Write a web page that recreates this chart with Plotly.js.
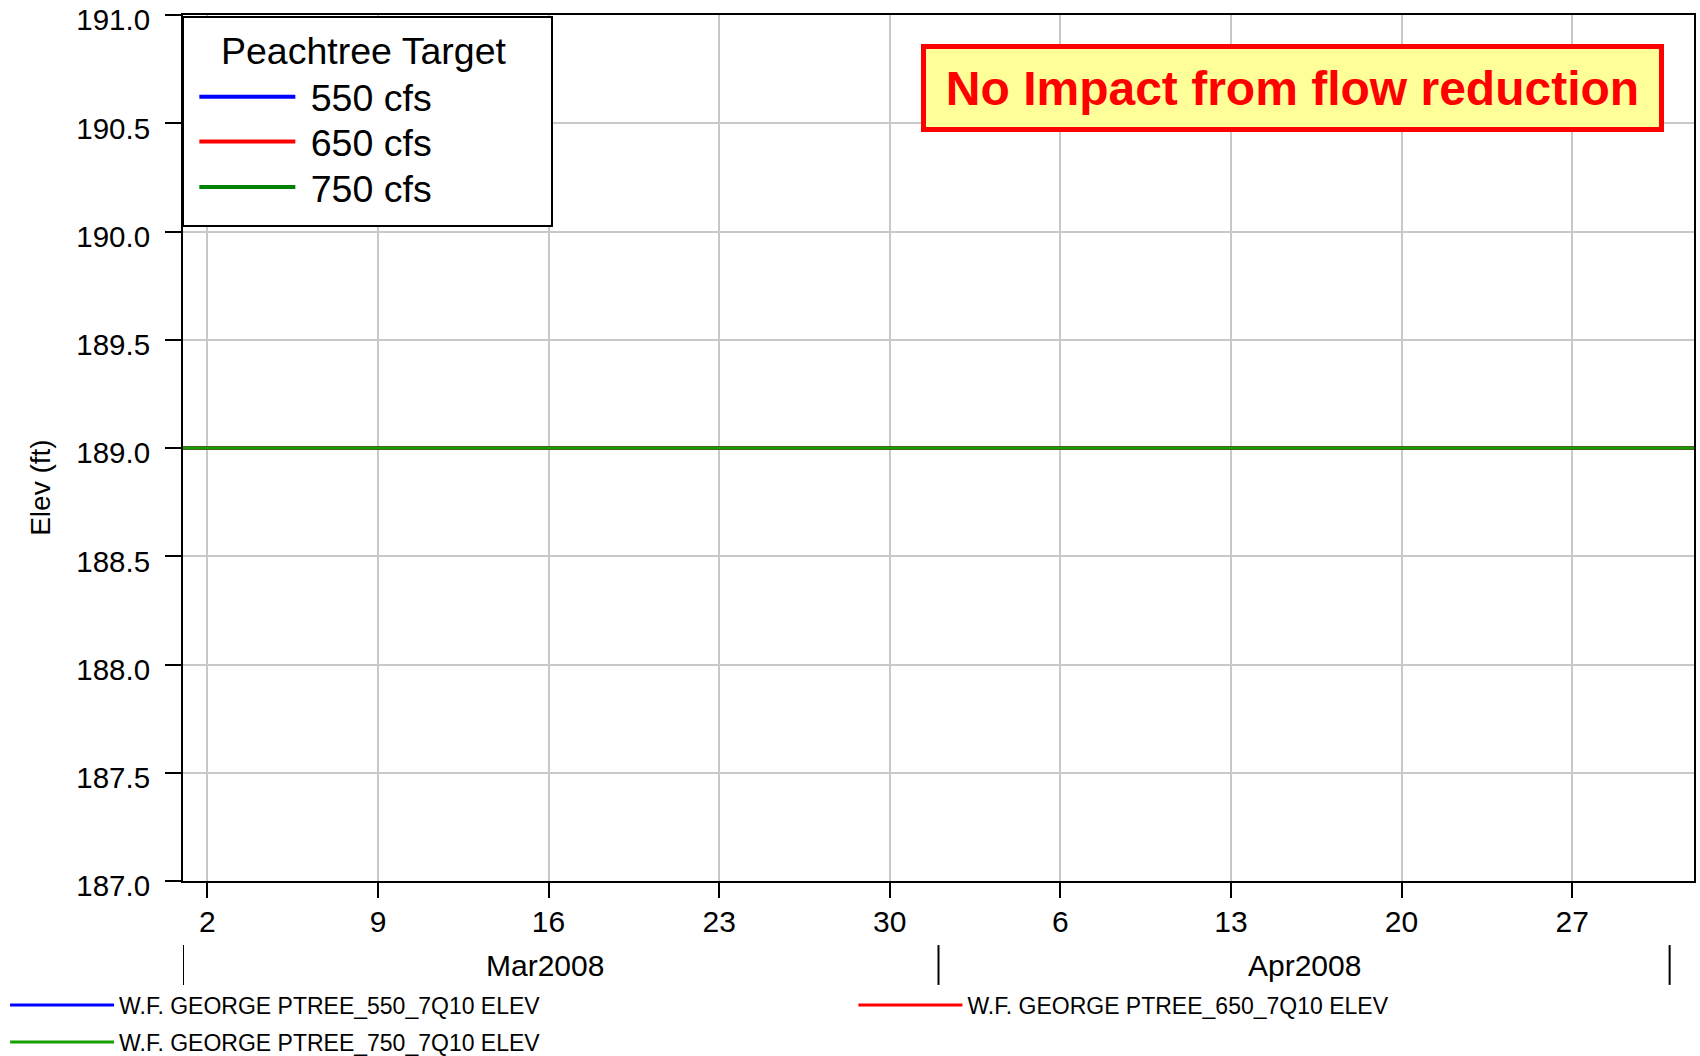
<!DOCTYPE html>
<html><head><meta charset="utf-8">
<script src="https://cdn.plot.ly/plotly-3.0.1.min.js"></script>
<style>html,body{margin:0;padding:0;background:#fff;}#chart{width:1700px;height:1056px;}</style>
</head><body><div id="chart"></div>
<script>
// ---- data ----
const dates = ["2008-03-01","2008-03-08","2008-03-15","2008-03-22","2008-03-29","2008-04-05","2008-04-12","2008-04-19","2008-04-26","2008-05-02"];
const elev550 = [189.0,189.0,189.0,189.0,189.0,189.0,189.0,189.0,189.0,189.0];
const elev650 = [189.0,189.0,189.0,189.0,189.0,189.0,189.0,189.0,189.0,189.0];
const elev750 = [189.0,189.0,189.0,189.0,189.0,189.0,189.0,189.0,189.0,189.0];
const targetNames = ["550 cfs","650 cfs","750 cfs"];
const seriesNames = ["W.F. GEORGE PTREE_550_7Q10 ELEV","W.F. GEORGE PTREE_650_7Q10 ELEV","W.F. GEORGE PTREE_750_7Q10 ELEV"];
const tickDates = ["2008-03-02","2008-03-09","2008-03-16","2008-03-23","2008-03-30","2008-04-06","2008-04-13","2008-04-20","2008-04-27"];
const tickLabels = ["2","9","16","23","30","6","13","20","27"];
const monthLabels = ["Mar2008","Apr2008"];
const monthLabelDates = ["2008-03-15T20:00","2008-04-16T00:00"];
const monthBounds = ["2008-03-01","2008-04-01","2008-05-01"];
const xRange = ["2008-03-01","2008-05-02"];
const yRange = [187.0,191.0];
const legendTitle = "Peachtree Target";
const yTitle = "Elev (ft)";
const noteText = "No Impact from flow reduction";

const FONT = "Liberation Sans, Arial, sans-serif";
const series = [elev550, elev650, elev750];
const targetColors = ["#0000ff","#ff0000","#008000"];
const seriesColors = ["#0000ff","#ff0000","#14a000"];
const sp = "\u00a0";

const traces = [];
const topLegends = ["legend","legend5","legend6"];
series.forEach((ys,i)=>{
  traces.push({x:dates,y:ys,type:"scatter",mode:"lines",name:sp+targetNames[i],legend:topLegends[i],
    line:{color:targetColors[i],width:4},hoverinfo:"skip"});
});
const bottomLegends = ["legend2","legend3","legend4"];
series.forEach((ys,i)=>{
  traces.push({x:dates,y:ys,type:"scatter",mode:"lines",name:seriesNames[i],legend:bottomLegends[i],
    line:{color:seriesColors[i],width:3},hoverinfo:"skip"});
});

const shapes = monthBounds.map(d=>({type:"line",xref:"x",yref:"paper",x0:d,x1:d,y0:-0.074,y1:-0.120,
  line:{color:"#000",width:2}}));
// legend frame
shapes.push({type:"rect",xref:"paper",yref:"paper",x0:0,x1:0.2442,y0:0.7564,y1:0.9977,layer:"above",
  fillcolor:"#ffffff",line:{color:"#000",width:2}});

const annotations = monthLabels.map((t,i)=>({xref:"x",yref:"paper",x:monthLabelDates[i],y:-0.098,
  text:t,showarrow:false,font:{family:FONT,size:30,color:"#000"},xanchor:"center",yanchor:"middle"}));
annotations.push({xref:"paper",yref:"paper",x:0.7343,y:0.9157,xanchor:"center",yanchor:"middle",
  text:"<b>"+noteText+"</b>",showarrow:false,font:{family:FONT,size:48,color:"#ff0000"},
  bgcolor:"#ffff99",bordercolor:"#ff0000",borderwidth:5,borderpad:0,width:733,height:78});
annotations.push({xref:"paper",yref:"paper",x:-0.094,y:0.454,xanchor:"center",yanchor:"middle",
  text:yTitle,textangle:-90,showarrow:false,font:{family:FONT,size:28,color:"#000"}});
annotations.push({xref:"paper",yref:"paper",x:0.1195,y:0.9585,xanchor:"center",yanchor:"middle",
  text:legendTitle,showarrow:false,font:{family:FONT,size:37.5,color:"#000"}});

const topLegendBase = {xref:"paper",yref:"paper",xanchor:"left",yanchor:"middle",x:0.0075,
  bgcolor:"rgba(0,0,0,0)",borderwidth:0,font:{family:FONT,size:37.5,color:"#000"},itemwidth:96};
const bottomLegendBase = {xref:"container",yref:"container",xanchor:"left",yanchor:"middle",
  bgcolor:"rgba(0,0,0,0)",borderwidth:0,font:{family:FONT,size:23,color:"#000"},itemwidth:104};

const layout = {
  width:1700,height:1056,
  paper_bgcolor:"#fff",plot_bgcolor:"#fff",
  margin:{l:183,r:6,t:15,b:175,autoexpand:false},
  font:{family:FONT,color:"#000"},
  xaxis:{type:"date",range:xRange,tickmode:"array",tickvals:tickDates,ticktext:tickLabels,
    ticks:"outside",ticklen:15,tickwidth:2,tickcolor:"#000",automargin:false,
    showgrid:true,gridcolor:"#c8c8c8",gridwidth:2,zeroline:false,
    showline:true,linecolor:"#000",linewidth:2,mirror:true,ticklabelstandoff:-2,
    tickfont:{family:FONT,size:30,color:"#000"}},
  yaxis:{range:yRange,tick0:187,dtick:0.5,tickformat:".1f",automargin:false,
    ticks:"outside",ticklen:16,tickwidth:2,tickcolor:"#000",
    showgrid:true,gridcolor:"#c8c8c8",gridwidth:2,zeroline:false,
    showline:true,linecolor:"#000",linewidth:2,mirror:true,ticklabeloverflow:"allow",
    tickfont:{family:FONT,size:29.5,color:"#000"},ticklabelstandoff:9,ticklabelshift:5},
  legend:Object.assign({},topLegendBase,{y:0.9055}),
  legend5:Object.assign({},topLegendBase,{y:0.8537}),
  legend6:Object.assign({},topLegendBase,{y:0.8013}),
  legend2:Object.assign({},bottomLegendBase,{x:0.003,y:0.0483}),
  legend3:Object.assign({},bottomLegendBase,{x:0.502,y:0.0483}),
  legend4:Object.assign({},bottomLegendBase,{x:0.003,y:0.0133}),
  shapes:shapes,
  annotations:annotations,
  showlegend:true
};

Plotly.newPlot("chart",traces,layout,{displayModeBar:false,staticPlot:true});
</script>
</body></html>
